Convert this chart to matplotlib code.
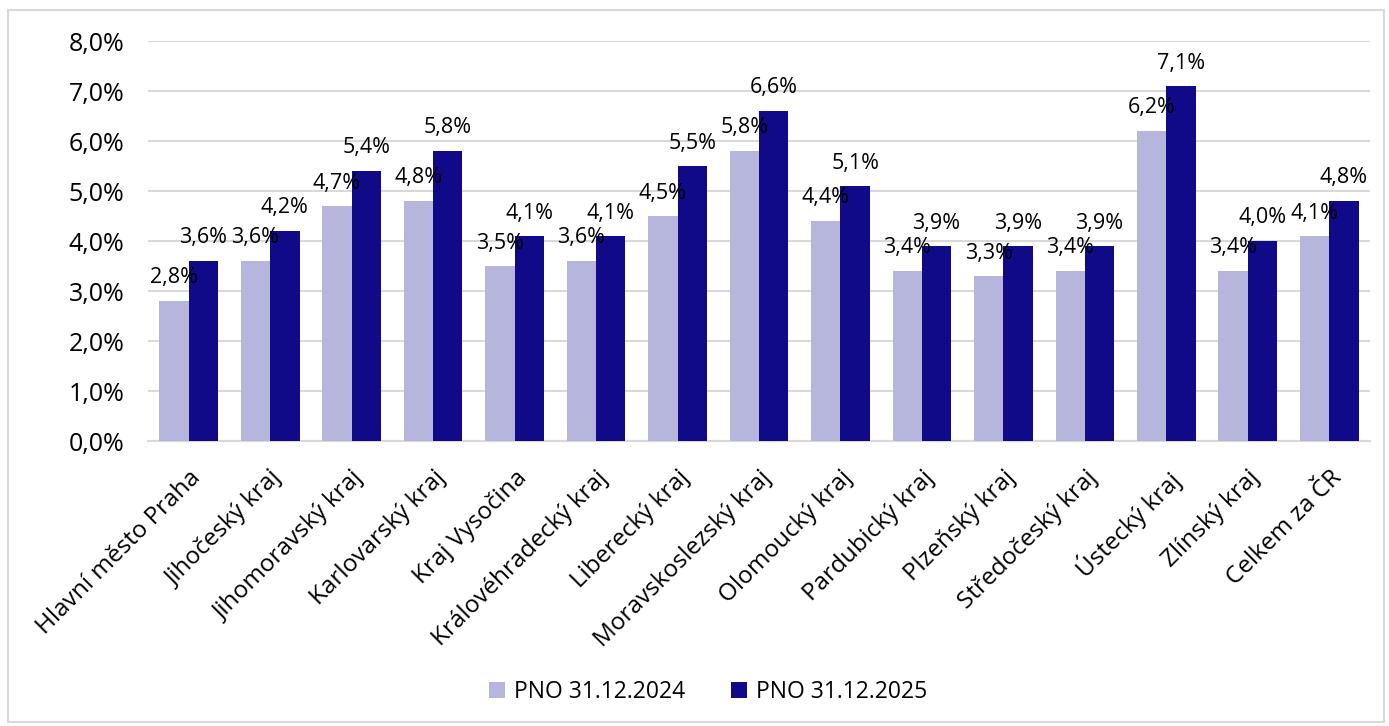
import matplotlib
matplotlib.use("Agg")
import matplotlib.pyplot as plt
import numpy as np
from matplotlib.patches import Rectangle

categories = ["Hlavní město Praha", "Jihočeský kraj", "Jihomoravský kraj", "Karlovarský kraj",
              "Kraj Vysočina", "Královéhradecký kraj", "Liberecký kraj", "Moravskoslezský kraj",
              "Olomoucký kraj", "Pardubický kraj", "Plzeňský kraj", "Středočeský kraj",
              "Ústecký kraj", "Zlínský kraj", "Celkem za ČR"]
pno_2024 = [2.8, 3.6, 4.7, 4.8, 3.5, 3.6, 4.5, 5.8, 4.4, 3.4, 3.3, 3.4, 6.2, 3.4, 4.1]
pno_2025 = [3.6, 4.2, 5.4, 5.8, 4.1, 4.1, 5.5, 6.6, 5.1, 3.9, 3.9, 3.9, 7.1, 4.0, 4.8]
series_names = ["PNO 31.12.2024", "PNO 31.12.2025"]
yticks = [0, 1, 2, 3, 4, 5, 6, 7, 8]

plt.rcParams['font.family'] = ['Open Sans', 'DejaVu Sans']

fig = plt.figure(figsize=(13.89, 7.26), dpi=100)
ax = fig.add_axes([148/1389, 1-441/726, (1370-148)/1389, 400/726])

x = np.arange(len(categories))
w = 0.36
c1 = '#b6b6dc'
c2 = '#110a88'
b1 = ax.bar(x - w/2, pno_2024, w, color=c1, label=series_names[0], zorder=3)
b2 = ax.bar(x + w/2, pno_2025, w, color=c2, label=series_names[1], zorder=3)

def fmt(v):
    return f"{v:.1f}%".replace('.', ',')

for bars, vals in ((b1, pno_2024), (b2, pno_2025)):
    for r, v in zip(bars, vals):
        ax.annotate(fmt(v), (r.get_x() + r.get_width()/2, v), xytext=(0, 9),
                    textcoords='offset points', ha='center', va='bottom',
                    fontsize=15.5, color='black', zorder=4)

ax.set_xlim(-0.5, len(categories) - 0.5)
ax.set_ylim(0, 8)
ax.set_yticks(yticks)
ax.set_yticklabels([fmt(v) for v in yticks], fontsize=18)
ax.set_xticks(x)
ax.set_xticklabels(categories, rotation=45, ha='right', rotation_mode='anchor', fontsize=17.5)
ax.tick_params(axis='x', length=0, pad=18)
ax.tick_params(axis='y', length=0, pad=17)
ax.grid(axis='y', color='#d9d9d9', linewidth=1.5, zorder=0)
for s in ['top', 'right', 'left']:
    ax.spines[s].set_visible(False)
ax.spines['bottom'].set_color('#d9d9d9')
ax.spines['bottom'].set_linewidth(1.5)

fig.legend(handles=[b1, b2], labels=series_names, loc='center', bbox_to_anchor=(708/1389, 1-692/726),
           ncol=2, frameon=False, fontsize=16.5, handlelength=0.7, handleheight=0.7,
           columnspacing=2.0, handletextpad=0.4)

fig.patches.append(Rectangle((8/1389, 1-722/726), (1384-8)/1389, (722-10)/726,
                             transform=fig.transFigure, fill=False, edgecolor='#d9d9d9',
                             linewidth=1.5))

fig.savefig('out.png', dpi=100)
